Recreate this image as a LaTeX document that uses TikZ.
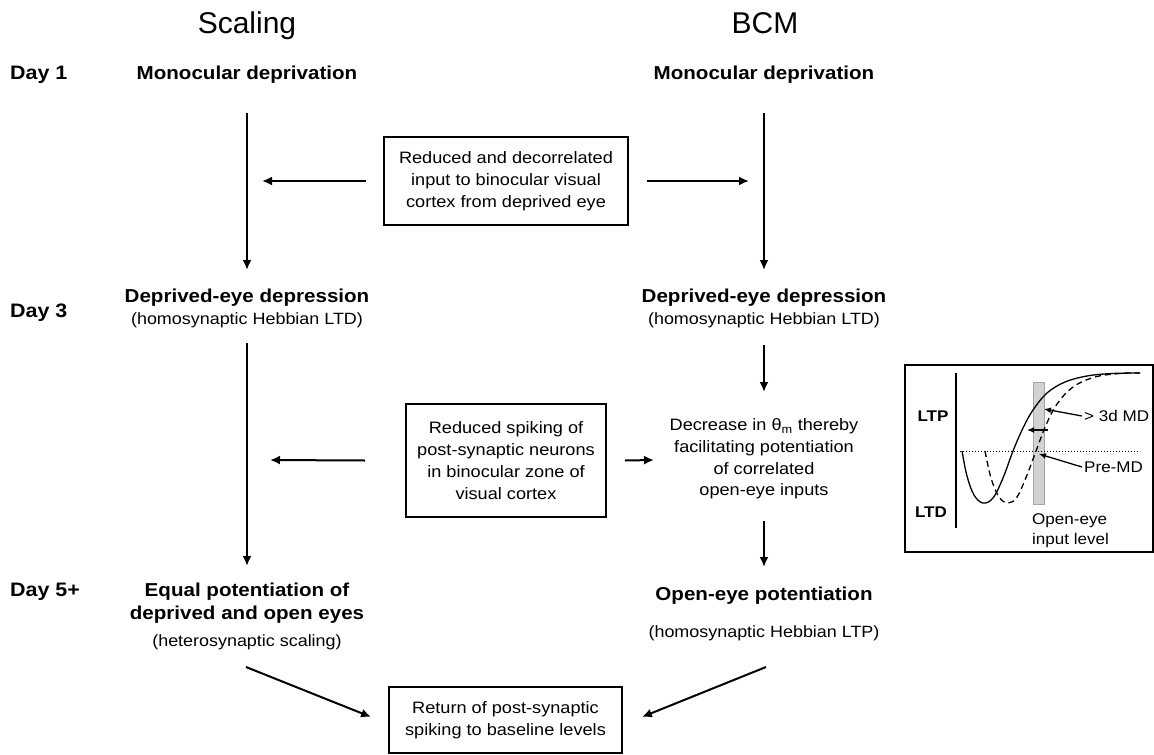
\documentclass[tikz,border=0pt]{standalone}
\usepackage{fontspec}
\setmainfont{Liberation Sans}[FakeStretch=1.1]
\newfontfamily\hdfont{Liberation Sans}
\usetikzlibrary{arrows.meta}
\tikzset{
  hd/.style={font=\hdfont\fontsize{30}{36}\selectfont, inner sep=0pt, anchor=base},
  lbl/.style={font=\fontsize{18.7}{23}\selectfont\bfseries, inner sep=0pt, anchor=base},
  sub/.style={font=\fontsize{16.3}{20}\selectfont, inner sep=0pt, anchor=base},
  day/.style={font=\fontsize{19.5}{23}\selectfont\bfseries, inner sep=0pt, anchor=base west},
  boxed/.style={draw, line width=1.8pt, align=center, font=\fontsize{16.5}{22}\selectfont, inner sep=0pt},
  plain/.style={align=center, font=\fontsize{16.5}{21.7}\selectfont, inner sep=0pt},
  arr/.style={line width=2pt, -{Latex[length=10pt,width=9pt]}},
  iarr/.style={line width=1.3pt, -{Latex[length=7pt,width=6pt]}},
  itext/.style={font=\fontsize{15.5}{20}\selectfont, inner sep=0pt},
  ibold/.style={font=\fontsize{15.5}{20}\selectfont\bfseries, inner sep=0pt},
}
\begin{document}
\begin{tikzpicture}[x=1pt,y=-1pt]
\useasboundingbox (0,0) rectangle (1154,755);

% headers
\node[hd] (hS) at (247,33) {Scaling};
\node[hd] (hB) at (765,33) {BCM};

% day labels
\node[day] (d1) at (10,79) {Day 1};
\node[day] (d3) at (10,317) {Day 3};
\node[day] (d5) at (10,596) {Day 5+};

% left column
\node[lbl] (monoL) at (247,79) {Monocular deprivation};
\node[lbl] (depL) at (247,302) {Deprived-eye depression};
\node[sub] (depLs) at (247,324) {(homosynaptic Hebbian LTD)};
\node[lbl] (eqL1) at (247,596) {Equal potentiation of};
\node[lbl] (eqL2) at (247,619) {deprived and open eyes};
\node[sub] (eqLs) at (247,646) {(heterosynaptic scaling)};

% right column
\node[lbl] (monoR) at (764,79) {Monocular deprivation};
\node[lbl] (depR) at (764,302) {Deprived-eye depression};
\node[sub] (depRs) at (764,324) {(homosynaptic Hebbian LTD)};
\node[plain] (dec) at (764,459) {Decrease in θ\textsubscript{m} thereby\\facilitating potentiation\\of correlated\\open-eye inputs};
\node[lbl] (opR) at (764,600) {Open-eye potentiation};
\node[sub] (opRs) at (764,637) {(homosynaptic Hebbian LTP)};

% boxes
\node[boxed, minimum width=244pt, minimum height=88pt] (b1) at (506,181)
  {Reduced and decorrelated\\input to binocular visual\\cortex from deprived eye};
\node[boxed, minimum width=200pt, minimum height=113pt] (b2) at (506,460.5)
  {Reduced spiking of\\post-synaptic neurons\\in binocular zone of\\visual cortex};
\node[boxed, minimum width=233pt, minimum height=66pt] (b3) at (505.5,720)
  {Return of post-synaptic\\spiking to baseline levels};

% connector end points
\coordinate (L1s) at (247,113);  \coordinate (L1e) at (247,270);
\coordinate (R1s) at (764,113);  \coordinate (R1e) at (764,270);
\coordinate (L2s) at (247,343);  \coordinate (L2e) at (247,566);
\coordinate (R2s) at (764,345);  \coordinate (R2e) at (764,392);
\coordinate (R3s) at (764,521);  \coordinate (R3e) at (764,567);
\coordinate (b1l) at (262,181);  \coordinate (b1r) at (749,181);
\coordinate (b2l) at (270,460);  \coordinate (b2r) at (654,460);
\coordinate (dLs) at (246,667);  \coordinate (dRs) at (766,667);

\draw[arr] (L1s) -- (L1e);
\draw[arr] (R1s) -- (R1e);
\draw[arr] (L2s) -- (L2e);
\draw[arr] (R2s) -- (R2e);
\draw[arr] (R3s) -- (R3e);
\draw[arr] ([xshift=-17pt]b1.west) -- (b1l);
\draw[arr] ([xshift=18pt]b1.east) -- (b1r);
\draw[arr] ([xshift=-40pt]b2.west) -- (b2l);
\draw[arr] ([xshift=18pt]b2.east) -- (b2r);
\draw[arr] (dLs) -- ([xshift=-17pt,yshift=3pt]b3.west);
\draw[arr] (dRs) -- ([xshift=19pt,yshift=3pt]b3.east);

% inset graph
\draw[line width=2pt] (905,365) rectangle (1152.5,552);
\draw[line width=1.3pt] (956,373) -- (956,528);
\fill[gray!35] (1033,382) rectangle (1044,504);
\draw[gray!70, line width=0.8pt] (1033,382) rectangle (1044,504);
\draw[line width=1pt, dotted] (960,451) -- (1140,451);
\draw[line width=1.3pt] plot[smooth, tension=0.6] coordinates {
  (962,451) (967,476) (974,495) (983,503) (993,498) (1003,478) (1013,451)
  (1023,428) (1033,410) (1047,393) (1065,382) (1087,376) (1112,373.5) (1140,373)};
\draw[line width=1.3pt, dash pattern=on 6pt off 4pt] plot[smooth, tension=0.6] coordinates {
  (985,451) (991,478) (999,497) (1008,503) (1017,497) (1027,475) (1036,451)
  (1046,425) (1057,404) (1073,387) (1095,377) (1120,373.5) (1140,373)};
\node[ibold] (ltp) at (933,416) {LTP};
\node[ibold] (ltd) at (931,512) {LTD};
\node[itext, anchor=west] (md3) at (1084,416) {> 3d MD};
\node[itext, anchor=west] (pre) at (1084,467) {Pre-MD};
\node[itext, anchor=base west] (oe1) at (1032,524) {Open-eye};
\node[itext, anchor=base west] (oe2) at (1032,544) {input level};
\coordinate (md3t) at (1044,409);
\coordinate (pret) at (1039,454);
\coordinate (shs) at (1048,430);
\coordinate (she) at (1027,430);
\draw[iarr] ([xshift=-2pt]md3.west) -- (md3t);
\draw[iarr] ([xshift=-2pt]pre.west) -- (pret);
\draw[iarr] (shs) -- (she);
\end{tikzpicture}
\end{document}
